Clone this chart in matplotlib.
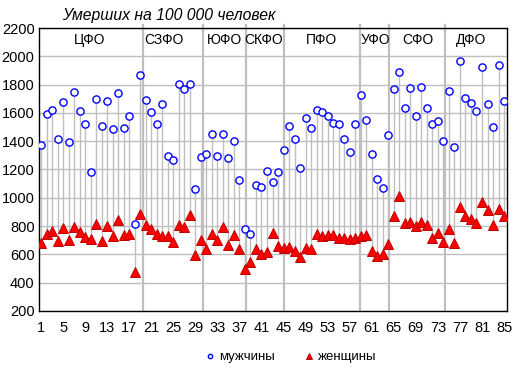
import matplotlib
matplotlib.use('Agg')
import matplotlib.pyplot as plt

plt.rcParams['font.family'] = ['Liberation Sans', 'DejaVu Sans']

# смертность на 100 000 человек по 85 регионам
men = [1373, 1593, 1621, 1418, 1678, 1396, 1749, 1614, 1524, 1181,
       1699, 1508, 1685, 1486, 1742, 1493, 1579, 814, 1870, 1692,
       1609, 1524, 1666, 1295, 1269, 1806, 1770, 1806, 1063, 1290,
       1310, 1452, 1295, 1453, 1283, 1404, 1124, 776, 743, 1093,
       1074, 1190, 1110, 1181, 1337, 1508, 1416, 1212, 1564, 1493,
       1621, 1607, 1581, 1531, 1524, 1418, 1323, 1524, 1730, 1553,
       1309, 1134, 1071, 1445, 1770, 1891, 1635, 1778, 1579, 1785,
       1635, 1522, 1546, 1404, 1756, 1360, 1970, 1706, 1673, 1614,
       1922, 1660, 1501, 1936, 1685]
women = [677, 743, 764, 695, 788, 700, 790, 758, 722, 707,
         815, 695, 800, 730, 843, 739, 744, 478, 887, 807,
         776, 745, 731, 731, 686, 807, 792, 880, 596, 698,
         637, 745, 698, 792, 669, 734, 635, 500, 549, 635,
         602, 618, 750, 662, 648, 650, 627, 578, 645, 637,
         745, 729, 738, 738, 715, 715, 708, 715, 731, 738,
         622, 587, 601, 674, 871, 1013, 819, 826, 800, 826,
         807, 715, 750, 688, 780, 682, 938, 873, 850, 819,
         967, 911, 805, 922, 868]
regions = list(range(1, 86))

districts = ['ЦФО', 'СЗФО', 'ЮФО', 'СКФО', 'ПФО', 'УФО', 'СФО', 'ДФО']
district_pos = [9.9, 23.3, 34.2, 41.3, 51.9, 61.6, 69.3, 79.0]
borders = [19.5, 30.3, 38.15, 45.1, 58.9, 64.2, 74.2]

fig = plt.figure(figsize=(5.19, 3.76), dpi=100)
ax = fig.add_axes([0.076, 0.173, 0.9, 0.7525])

ax.set_axisbelow(True)
ax.yaxis.grid(True, color='#BFBFBF', lw=1)

# линии между мужчинами и женщинами
ax.vlines(regions, women, men, color='#BFBFBF', lw=1, zorder=2)
for b in borders:
    ax.plot([b, b], [200, 2222], color='#BFBFBF', lw=1.6, clip_on=False, zorder=2)

ax.plot(regions, women, '^', ms=6.5, mfc='#FF0000', mec='#C00000', mew=0.7,
        ls='none', label='женщины', zorder=3)
ax.plot(regions, men, 'o', ms=5.2, mfc='white', mec='#0000FF', mew=1,
        ls='none', label='мужчины', zorder=4)

for name, p in zip(districts, district_pos):
    ax.text(p, 2115, name, ha='center', va='center', fontsize=10)

ax.set_xlim(0.72, 85.45)
ax.set_ylim(200, 2200)
ax.set_xticks(range(1, 86, 4))
ax.set_yticks(range(200, 2201, 200))
ax.tick_params(length=0, labelsize=10.5)
ax.tick_params(axis='y', pad=3.5)
ax.tick_params(axis='x', pad=7)
for s in ax.spines.values():
    s.set_color('black')
    s.set_linewidth(1)

fig.text(0.119, 0.958, 'Умерших на 100 000 человек', style='italic',
         fontsize=11.3, ha='left', va='center')

h, l = ax.get_legend_handles_labels()
fig.legend(h[::-1], l[::-1], loc='center', bbox_to_anchor=(0.56, 0.05), ncol=2,
           frameon=False, fontsize=9.5, markerscale=0.6, handlelength=0.8,
           handletextpad=0.3, columnspacing=2.2)

plt.savefig('out.png', dpi=100)
